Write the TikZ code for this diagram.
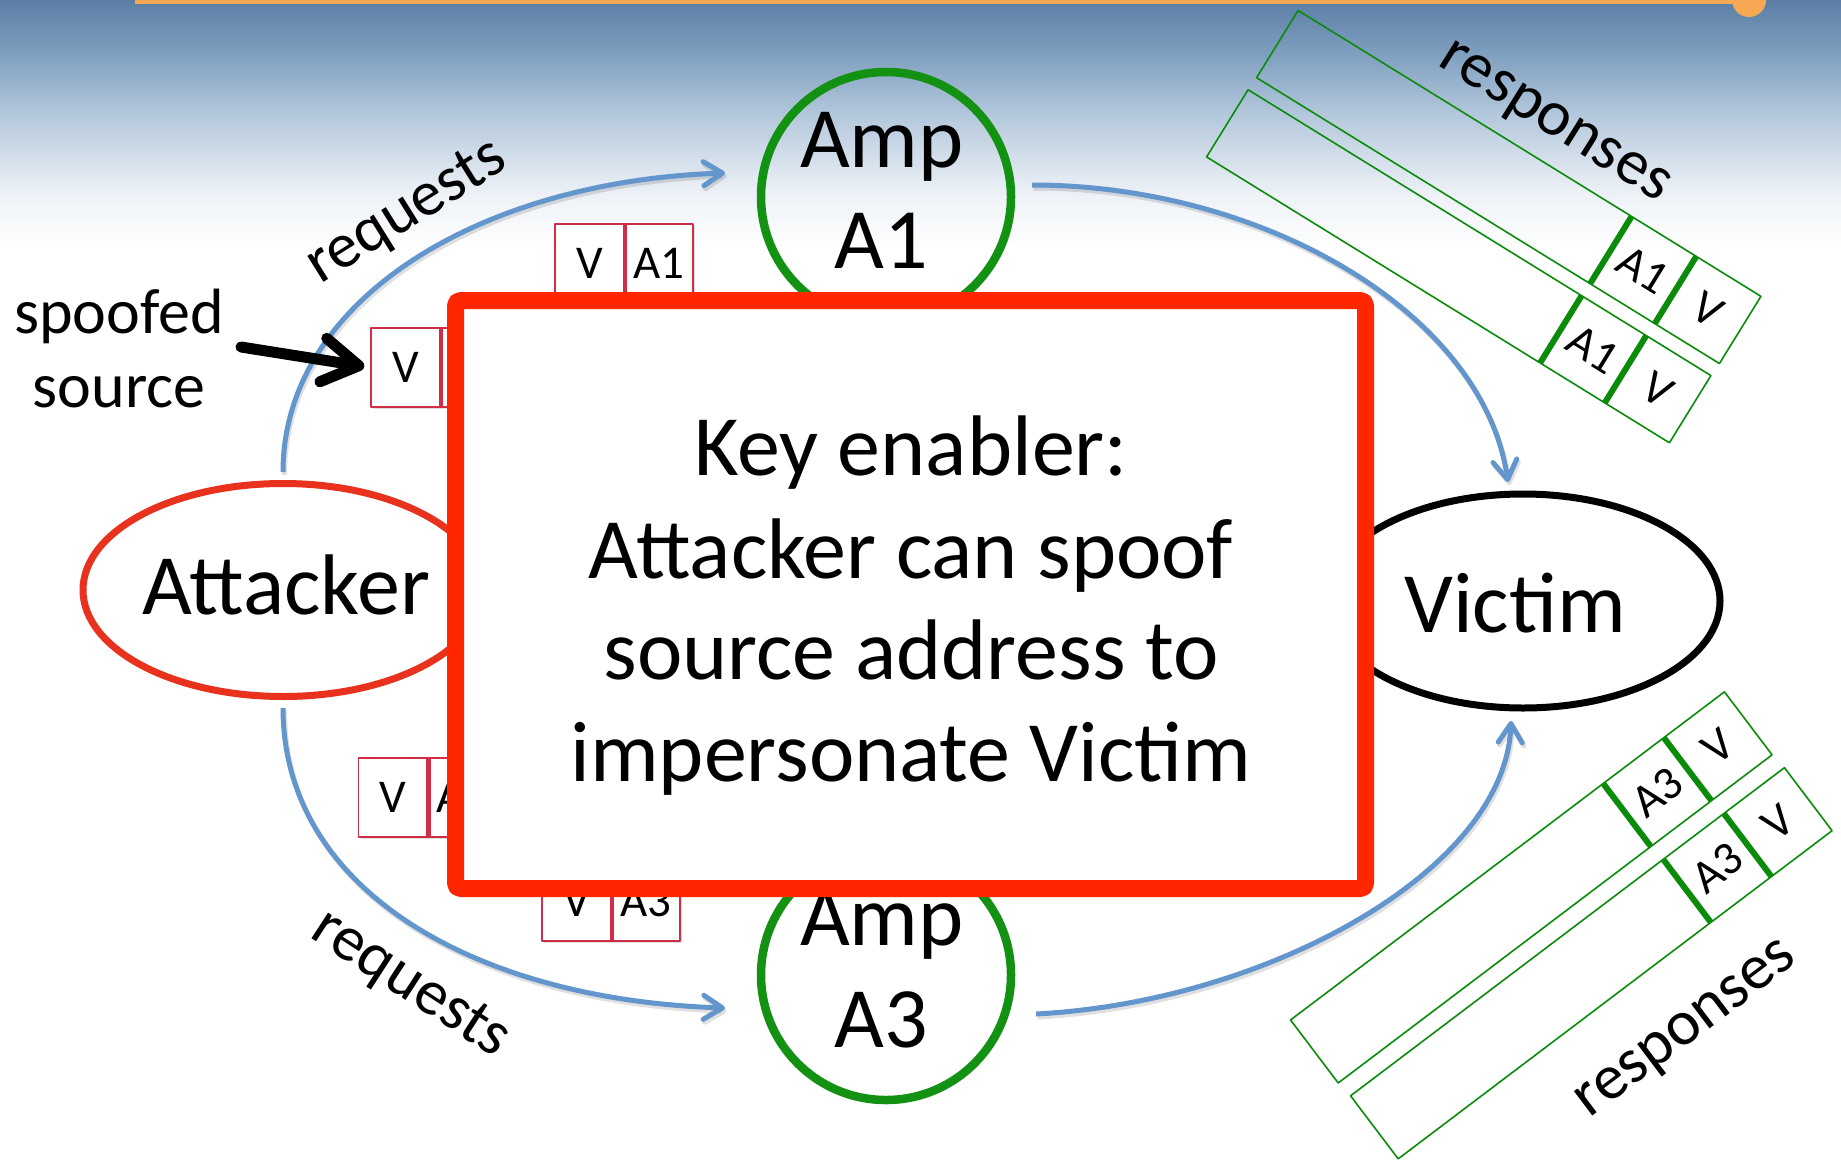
\documentclass[tikz,border=0pt]{standalone}
\usepackage{fontspec}
\setmainfont{Carlito}
\usetikzlibrary{shapes.geometric,arrows.meta,shadows}
\definecolor{arcblue}{RGB}{98,150,204}
\definecolor{ampgreen}{RGB}{18,145,18}
\definecolor{pktgreen}{RGB}{10,140,10}
\definecolor{keyred}{RGB}{255,38,0}
\definecolor{attred}{RGB}{232,50,30}
\definecolor{pktred}{RGB}{208,45,70}
\definecolor{barorange}{RGB}{246,168,82}
\definecolor{skyA}{RGB}{92,126,166}
\definecolor{skyB}{RGB}{128,160,192}
\definecolor{skyC}{RGB}{180,200,220}
\definecolor{skyD}{RGB}{238,242,247}
\pgfdeclareverticalshading{skyshade}{100bp}{color(0bp)=(white); color(25bp)=(white); color(36bp)=(skyD); color(52bp)=(skyC); color(64bp)=(skyB); color(75bp)=(skyA); color(100bp)=(skyA)}
\newcommand\fntBig{\fontsize{86}{101}\selectfont}
\newcommand\fntLab{\fontsize{64}{76}\selectfont}
\newcommand\fntPkt{\fontsize{47}{56}\selectfont}
\tikzset{
  actor/.style={ellipse, line width=7pt, inner sep=0pt},
  amp/.style={circle, draw=ampgreen, line width=8.5pt, minimum size=250pt, inner sep=0pt},
  flow/.style={draw=arcblue, line width=5pt, -{Straight Barb[length=19pt,width=24pt,round]},
    preaction={draw=black, draw opacity=0.12, line width=5pt, transform canvas={shift={(1.5pt,-3pt)}}}},
  bigtxt/.style={font=\fntBig, inner sep=0pt, anchor=base},
  labtxt/.style={font=\fntLab, inner sep=0pt},
  rcell/.style={draw=pktred, line width=1.6pt, fill=white, minimum width=69pt, minimum height=79pt, inner sep=0pt, font=\fntPkt, drop shadow={shadow xshift=2pt, shadow yshift=-2pt, opacity=0.25}},
  rdiv/.style={draw=pktred, line width=4.5pt},
  gbody/.style={draw=pktgreen, line width=1.6pt, minimum width=544pt, minimum height=79pt, inner sep=0pt, transform shape},
  gcell/.style={font=\fntPkt, inner sep=0pt, transform shape},
  gdiv/.style={draw=pktgreen, line width=6pt},
}
\begin{document}
\begin{tikzpicture}[x=1pt,y=-1pt,line join=round]
\useasboundingbox (0,0) rectangle (1841,1162);
\fill[white] (0,0) rectangle (1841,1162);
\fill[shading=skyshade] (0,0) rectangle (1841,250);
\fill[barorange] (135,0) rectangle (1745,3.5);
\fill[barorange] (1749,0) circle (17pt);

% actors
\node[actor, draw=attred, minimum width=400pt, minimum height=213pt] (att) at (283,590) {};
\node[actor, draw=black, minimum width=394pt, minimum height=214pt] (vic) at (1523,601) {};
\node[amp] (a1) at (886,197) {};
\node[amp] (a3) at (886,975) {};
\node[bigtxt] (attT) at (286,614) {Attacker};
\node[bigtxt] (vicT) at (1515,632) {Victim};
\node[bigtxt] (a1T1) at (882,167) {Amp};
\node[bigtxt] (a1T2) at (881,268) {A1};
\node[bigtxt] (a3T1) at (882,945) {Amp};
\node[bigtxt] (a3T2) at (881,1047) {A3};

% flows
\coordinate (a1in) at (725,173);
\coordinate (a3in) at (725,1008);
\coordinate (a1out) at (1032,185);
\coordinate (a3out) at (1036,1014);
\coordinate (vin1) at (1508,482);
\coordinate (vin3) at (1511,721);
\draw[flow, shorten <=8pt] (att.north) .. controls +(0,-180) and +(-245,8) .. (a1in);
\draw[flow, shorten <=8pt] (att.south) .. controls +(0,190) and +(-250,-8) .. (a3in);
\draw[flow] (a1out) .. controls +(230,0) and +(-25,-170) .. (vin1);
\draw[flow] (a3out) .. controls +(230,-12) and +(-5,150) .. (vin3);

% request packets
\node[rcell] (p1v) at (589.5,263.5) {V};
\node[rcell] (p1a) at (658.5,263.5) {A1};
\draw[rdiv] (p1v.north east) -- (p1v.south east);
\node[rcell] (p2v) at (405.5,367.5) {V};
\node[rcell] (p2a) at (474.5,367.5) {};
\draw[rdiv] (p2v.north east) -- (p2v.south east);
\node[rcell] (p3v) at (393,797.5) {V};
\node[rcell] (p3a) at (462,797.5) {A3};
\draw[rdiv] (p3v.north east) -- (p3v.south east);
\node[rcell] (p4v) at (576.5,901.5) {V};
\node[rcell] (p4a) at (645.5,901.5) {A3};
\draw[rdiv] (p4v.north east) -- (p4v.south east);

% key box
\node[draw=keyred, line width=17pt, fill=white, rounded corners=5pt, minimum width=910pt, minimum height=588pt, inner sep=0pt, drop shadow={shadow xshift=3pt, shadow yshift=-3pt, opacity=0.3}] (key) at (910.5,594.5) {};
\node[bigtxt] (k1) at (911,475) {Key enabler:};
\node[bigtxt] (k2) at (911,578) {Attacker can spoof};
\node[bigtxt] (k3) at (911,679) {source address to};
\node[bigtxt] (k4) at (911,781) {impersonate Victim};

% response packets
\begin{scope}[shift={(1508.75,187)}, rotate=-31.7]
  \node[gbody] (r1) at (0,0) {};
  \node[gcell] (r1a) at (158,0) {A1};
  \node[gcell] (r1v) at (234,0) {V};
  \draw[gdiv] (120,-39.5) -- (120,39.5);
  \draw[gdiv] (196,-39.5) -- (196,39.5);
\end{scope}
\begin{scope}[shift={(1458.75,266.25)}, rotate=-31.7]
  \node[gbody] (r2) at (0,0) {};
  \node[gcell] (r2a) at (158,0) {A1};
  \node[gcell] (r2v) at (234,0) {V};
  \draw[gdiv] (120,-39.5) -- (120,39.5);
  \draw[gdiv] (196,-39.5) -- (196,39.5);
\end{scope}
\begin{scope}[shift={(1531.3,887.4)}, rotate=37.1]
  \node[gbody] (r3) at (0,0) {};
  \node[gcell] (r3a) at (158,0) {A3};
  \node[gcell] (r3v) at (234,0) {V};
  \draw[gdiv] (120,-39.5) -- (120,39.5);
  \draw[gdiv] (196,-39.5) -- (196,39.5);
\end{scope}
\begin{scope}[shift={(1591.3,963.25)}, rotate=37.1]
  \node[gbody] (r4) at (0,0) {};
  \node[gcell] (r4a) at (158,0) {A3};
  \node[gcell] (r4v) at (234,0) {V};
  \draw[gdiv] (120,-39.5) -- (120,39.5);
  \draw[gdiv] (196,-39.5) -- (196,39.5);
\end{scope}

% labels
\node[labtxt, rotate=32] (req1) at (407,213) {requests};
\node[labtxt, rotate=-33] (req2) at (410,985) {requests};
\node[labtxt, rotate=-32] (resp1) at (1553,125) {responses};
\node[labtxt, rotate=37] (resp2) at (1688,1032) {responses};
\node[labtxt, anchor=base] (sp1) at (119,333) {spoofed};
\node[labtxt, anchor=base] (sp2) at (119,407) {source};
\coordinate (spTail) at (241,347);
\draw[line width=11pt, line cap=round, -{Straight Barb[length=36pt,width=44pt,round]}, shorten >=6pt] (spTail) -- (p2v.west);
\end{tikzpicture}
\end{document}
